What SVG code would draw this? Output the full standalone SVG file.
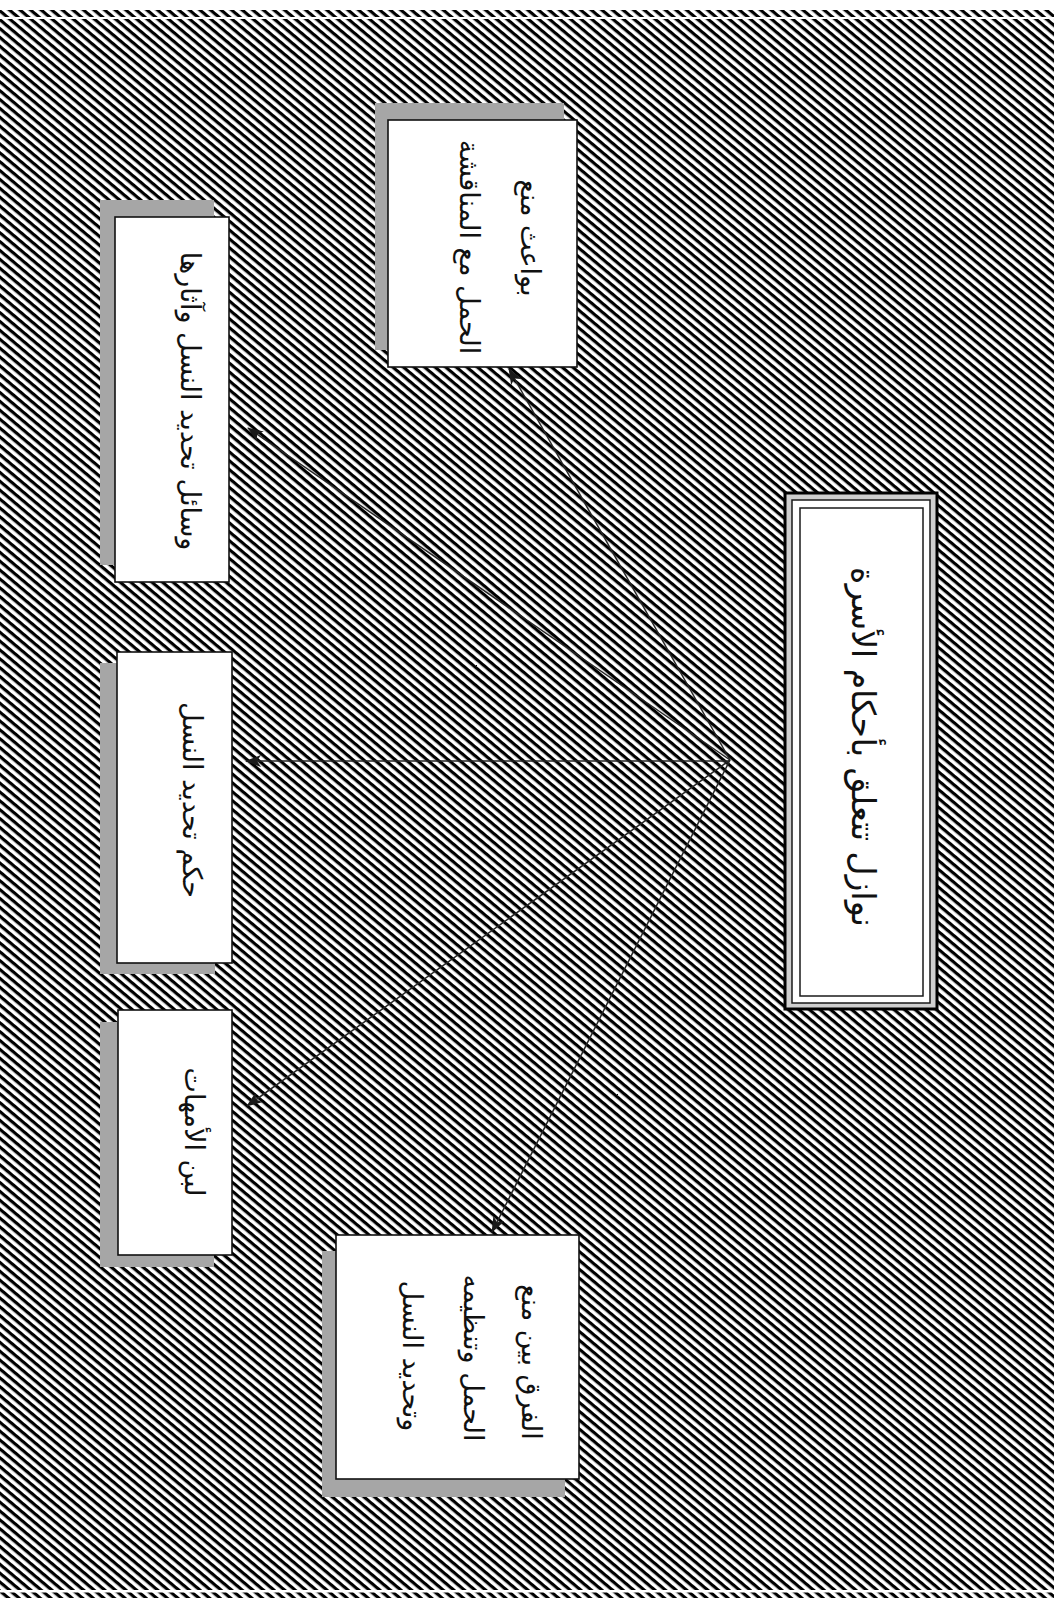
<svg xmlns="http://www.w3.org/2000/svg" width="1054" height="1598" viewBox="0 0 1054 1598">
  <style>
    .box { fill: #ffffff; stroke: #111111; stroke-width: 1.6; }
    .shadow { fill: #a6a6a6; }
    .label { font-family: "DejaVu Sans", sans-serif; font-size: 27px; fill: #111111; text-anchor: middle; }
    .title { font-family: "DejaVu Sans", sans-serif; font-size: 33px; fill: #111111; text-anchor: middle; }
    .link { fill: none; stroke: #262626; stroke-width: 1.5; marker-end: url(#arrow); }
  </style>
  <defs>
    <pattern id="hatch" patternUnits="userSpaceOnUse" width="20" height="6.8" patternTransform="rotate(40)">
      <rect x="0" y="0" width="20" height="3.2" fill="#000000"/>
    </pattern>
    <marker id="arrow" viewBox="0 0 16 12" refX="15" refY="6" markerWidth="16" markerHeight="12" markerUnits="userSpaceOnUse" orient="auto">
      <path d="M0,0 L16,6 L0,12 L4,6 z" fill="#1a1a1a"/>
    </marker>
  </defs>

  <!-- page -->
  <rect x="0" y="0" width="1054" height="1598" fill="#ffffff"/>
  <rect x="0" y="10" width="1054" height="1588" fill="url(#hatch)"/>
  <rect x="0" y="17" width="1054" height="2" fill="#ffffff"/>
  <rect x="0" y="1590" width="1054" height="2.5" fill="#ffffff"/>

  <!-- connectors from the hub beside the title -->
  <g id="connectors">
    <line class="link" x1="730" y1="760" x2="509" y2="369"/>
    <line class="link" x1="730" y1="760" x2="248" y2="428"/>
    <line class="link" x1="730" y1="761" x2="246" y2="761"/>
    <line class="link" x1="730" y1="760" x2="247" y2="1106"/>
    <line class="link" x1="730" y1="760" x2="492" y2="1232"/>
  </g>

  <!-- title -->
  <g id="title">
    <rect x="785" y="493" width="152" height="516" fill="#cfcfcf" stroke="#000000" stroke-width="3"/>
    <rect x="792" y="500" width="138" height="503" fill="#ffffff" stroke="#1a1a1a" stroke-width="1.5"/>
    <rect x="800" y="508" width="123" height="488" fill="#ffffff" stroke="#1a1a1a" stroke-width="1.5"/>
    <text class="title" direction="rtl" transform="translate(852,747) rotate(90)">نوازل تتعلق بأحكام الأسرة</text>
  </g>

  <!-- motives for preventing pregnancy -->
  <g id="node-motives">
    <rect class="shadow" x="375" y="103" width="189" height="247"/>
    <rect class="box" x="388" y="120" width="189" height="247"/>
    <text class="label" direction="rtl" transform="translate(521,238) rotate(90)">بواعث منع</text>
    <text class="label" direction="rtl" transform="translate(460,247) rotate(90)">الحمل مع المناقشة</text>
  </g>

  <!-- means of birth control and their effects -->
  <g id="node-means">
    <rect class="shadow" x="100" y="200" width="114" height="365"/>
    <rect class="box" x="115" y="217" width="114" height="365"/>
    <text class="label" direction="rtl" transform="translate(181,401) rotate(90)">وسائل تحديد النسل وآثارها</text>
  </g>

  <!-- ruling on birth control -->
  <g id="node-ruling">
    <rect class="shadow" x="100" y="663" width="115" height="311"/>
    <rect class="box" x="117" y="652" width="115" height="311"/>
    <text class="label" direction="rtl" transform="translate(183,800) rotate(90)">حكم تحديد النسل</text>
  </g>

  <!-- mothers' milk -->
  <g id="node-milk">
    <rect class="shadow" x="100" y="1022" width="114" height="245"/>
    <rect class="box" x="118" y="1010" width="114" height="245"/>
    <text class="label" direction="rtl" transform="translate(185,1132) rotate(90)">لبن الأمهات</text>
  </g>

  <!-- difference between prevention, planning and limitation -->
  <g id="node-difference">
    <rect class="shadow" x="322" y="1251" width="243" height="246"/>
    <rect class="box" x="336" y="1235" width="243" height="244"/>
    <text class="label" direction="rtl" transform="translate(522,1362) rotate(90)">الفرق بين منع</text>
    <text class="label" direction="rtl" transform="translate(464,1358) rotate(90)">الحمل وتنظيمه</text>
    <text class="label" direction="rtl" transform="translate(403,1356) rotate(90)">وتحديد النسل</text>
  </g>
</svg>
